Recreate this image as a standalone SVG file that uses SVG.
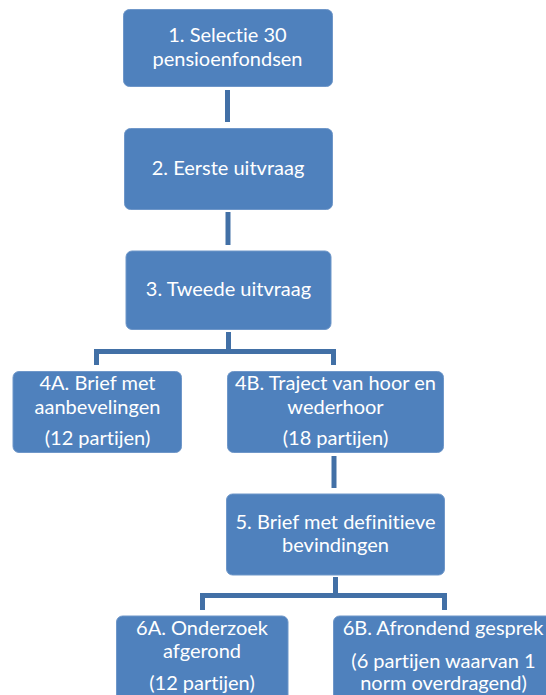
<svg xmlns="http://www.w3.org/2000/svg" width="546" height="695" viewBox="0 0 546 695">
<style>
.box{fill:#4f81bd;stroke:#6f97c9;stroke-width:1}
.t{fill:#ffffff;font-family:Lato,"Open Sans",sans-serif;font-size:20px;text-anchor:middle;font-variant-ligatures:none;font-feature-settings:"liga" 0,"clig" 0}
.c{fill:none;stroke:#4270a6;stroke-width:5;stroke-linejoin:miter;stroke-linecap:butt}
</style>
<rect width="546" height="695" fill="#ffffff"/>
<g id="connectors">
<path class="c" d="M227.5 90V122"/>
<path class="c" d="M228 212V245"/>
<path class="c" d="M228.5 332V351.5"/>
<path class="c" d="M96.5 365V351.5H333.5V365"/>
<path class="c" d="M334 456V488"/>
<path class="c" d="M335.5 577V595.5"/>
<path class="c" d="M202.5 610V595.5H444.5V610"/>
</g>
<g id="n1">
<rect class="box" x="123.5" y="9.5" width="209" height="77" rx="6"/>
<text class="t" x="227.5" y="42">1. Selectie 30</text>
<text class="t" x="227.5" y="66">pensioenfondsen</text>
</g>
<g id="n2">
<rect class="box" x="124.5" y="128.5" width="208" height="81" rx="6"/>
<text class="t" x="228" y="175">2. Eerste uitvraag</text>
</g>
<g id="n3">
<rect class="box" x="126" y="251" width="205" height="78.5" rx="6"/>
<text class="t" x="228.5" y="296">3. Tweede uitvraag</text>
</g>
<g id="n4a">
<rect class="box" x="13" y="371.5" width="168.5" height="81" rx="6"/>
<text class="t" x="97.5" y="390">4A. Brief met</text>
<text class="t" x="97.5" y="414">aanbevelingen</text>
<text class="t" x="97.5" y="445">(12 partijen)</text>
</g>
<g id="n4b">
<rect class="box" x="227.5" y="371.5" width="216" height="81" rx="6"/>
<text class="t" x="335.5" y="390">4B. Traject van hoor en</text>
<text class="t" x="335.5" y="414">wederhoor</text>
<text class="t" x="335.5" y="445">(18 partijen)</text>
</g>
<g id="n5">
<rect class="box" x="226.5" y="494" width="218" height="81" rx="6"/>
<text class="t" x="335.5" y="529">5. Brief met definitieve</text>
<text class="t" x="335.5" y="552">bevindingen</text>
</g>
<g id="n6a">
<rect class="box" x="116.5" y="616" width="171.5" height="90" rx="6"/>
<text class="t" x="202" y="635">6A. Onderzoek</text>
<text class="t" x="202" y="658">afgerond</text>
<text class="t" x="202" y="690">(12 partijen)</text>
</g>
<g id="n6b">
<rect class="box" x="333.5" y="616" width="222" height="90" rx="6"/>
<text class="t" x="443" y="635">6B. Afrondend gesprek</text>
<text class="t" x="443.5" y="668">(6 partijen waarvan 1</text>
<text class="t" x="443.5" y="690">norm overdragend)</text>
</g>
</svg>
